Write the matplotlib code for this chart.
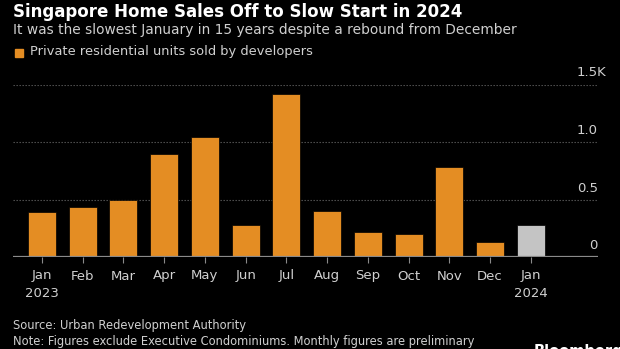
import matplotlib.pyplot as plt
from matplotlib import transforms
import numpy as np

months = ["Jan\n2023", "Feb", "Mar", "Apr", "May", "Jun", "Jul", "Aug",
          "Sep", "Oct", "Nov", "Dec", "Jan\n2024"]
units_sold = [393, 433, 494, 893, 1043, 277, 1418, 396, 217, 203, 786, 133, 281]
y_ticks = [0, 500, 1000, 1500]
y_labels = ["0", "0.5", "1.0", "1.5K"]

ORANGE = "#E48D23"
LATEST = "#C4C4C4"
TEXT = "#D0D0D0"
W, H = 620, 349

plt.rcParams["font.family"] = ["DejaVu Sans"]

fig = plt.figure(figsize=(W / 100, H / 100), dpi=100)
fig.patch.set_facecolor("black")


def px(x, y):
    return x / W, 1 - y / H


ax = fig.add_axes([13 / W, (H - 257) / H, (598 - 13) / W, (257 - 84.5) / H])
ax.set_facecolor("black")

x = np.arange(len(units_sold))
colors = [ORANGE] * (len(units_sold) - 1) + [LATEST]
ax.bar(x, units_sold, width=0.69, color=colors, edgecolor="black", linewidth=0.5, zorder=3)

ax.set_xlim(-0.71, 13.65)
ax.set_ylim(0, 1500)

for t in y_ticks[1:]:
    ax.axhline(t, color="#5a5a5a", lw=0.8, ls=(0, (1.2, 1.5)), zorder=1)
ax.axhline(0, color="#8a8a8a", lw=1.6, zorder=4)

for s in ax.spines.values():
    s.set_visible(False)
ax.set_yticks([])
ax.set_xticks(x)
ax.set_xticklabels(months, color=TEXT, fontsize=9.5, linespacing=1.45)
ax.tick_params(axis="x", length=4, width=0.8, color="#8a8a8a", pad=5)

# value axis labels sit above their gridlines on the right
lift = transforms.offset_copy(ax.get_yaxis_transform(), fig=fig, y=5, units="dots")
for t, lab in zip(y_ticks, y_labels):
    xa = 1.0 if lab != "1.5K" else 1.0 + 8 / (598 - 13)
    ax.text(xa, t, lab, transform=lift, ha="right", va="bottom",
            color=TEXT, fontsize=9.5)

fig.text(*px(13, 12), "Singapore Home Sales Off to Slow Start in 2024", color="white",
         fontsize=12, fontweight="bold", va="center", ha="left")
fig.text(*px(13, 30), "It was the slowest January in 15 years despite a rebound from December",
         color=TEXT, fontsize=9.9, va="center", ha="left")

fig.patches.append(plt.Rectangle(px(15, 57), 8 / W, 8 / H, transform=fig.transFigure,
                                 color=ORANGE))
fig.text(*px(30, 52), "Private residential units sold by developers", color=TEXT,
         fontsize=9.4, va="center", ha="left")

fig.text(*px(13, 325), "Source: Urban Redevelopment Authority", color=TEXT,
         fontsize=8.3, va="center", ha="left")
fig.text(*px(13, 341), "Note: Figures exclude Executive Condominiums. Monthly figures are preliminary",
         color=TEXT, fontsize=8.3, va="center", ha="left")
fig.text(*px(13, 357), "and subject to further revision", color=TEXT,
         fontsize=8.3, va="center", ha="left")
fig.text(*px(534, 344), "Bloomberg", color="white", fontsize=10.5, fontweight="bold",
         va="top", ha="left")

fig.savefig("out.png", dpi=100, facecolor="black")
